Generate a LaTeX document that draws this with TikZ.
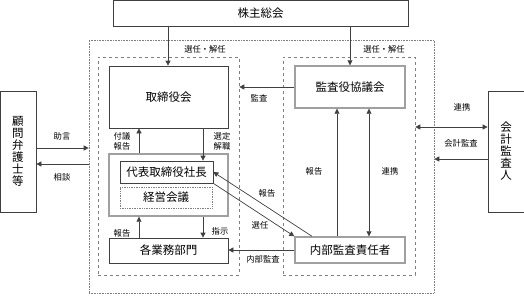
\documentclass[tikz,border=0pt]{standalone}
\usepackage{fontspec}
\setmainfont{Noto Sans CJK JP}
\usetikzlibrary{arrows.meta}
\definecolor{ln}{HTML}{404040}
\definecolor{gb}{HTML}{A0A0A0}
\tikzset{
  box/.style={draw=ln, line width=0.7pt, inner sep=0pt, font=\fontsize{11.5}{13}\selectfont, text=black},
  gbox/.style={draw=gb, line width=1.4pt, inner sep=0pt, font=\fontsize{11.5}{13}\selectfont, text=black},
  frame/.style={draw=gray, line width=0.6pt, inner sep=0pt},
  lab/.style={font=\fontsize{8.3}{9.5}\selectfont, text=black, inner sep=0pt, align=center},
  arr/.style={draw=ln, line width=0.7pt, -{Triangle[length=5pt,width=5pt]}},
  barr/.style={draw=ln, line width=0.7pt, {Triangle[length=5pt,width=5pt]}-{Triangle[length=5pt,width=5pt]}},
  ln/.style={draw=ln, line width=0.7pt}
}
\newcommand{\bx}[6]{% name, style, x1, y1, x2, y2
  \node[#2, minimum width={#5-#3}, minimum height={#6-#4}] (#1) at ({(#3+#5)/2},{(#4+#6)/2}) {};}
\begin{document}
\begin{tikzpicture}[x=1pt,y=-1pt]
\useasboundingbox (0,0) rectangle (524,295);
% frames
\node[frame, densely dotted, minimum width=345pt, minimum height=253pt] (outer) at (261.5,166.5) {};
\node[frame, dashed, minimum width=141pt, minimum height=218pt] (innerL) at (168.5,166) {};
\node[frame, dashed, minimum width=132pt, minimum height=218pt] (innerR) at (349,166) {};
% boxes
\node[box, minimum width=295pt, minimum height=25.5pt] (kabu) at (260.5,13.25) {株主総会};
\node[box, minimum width=119pt, minimum height=62pt] (tori) at (168.5,97) {取締役会};
\node[gbox, minimum width=110pt, minimum height=42pt] (kansa) at (350,87) {監査役協議会};
\node[gbox, minimum width=119pt, minimum height=62pt] (cont) at (168.5,185) {};
\node[box, minimum width=93pt, minimum height=22pt] (daihyo) at (166.5,172) {代表取締役社長};
\node[box, draw=gray, densely dotted, minimum width=92pt, minimum height=21pt] (keiei) at (166,197.5) {経営会議};
\node[box, minimum width=119pt, minimum height=25pt] (gyomu) at (168.5,250.5) {各業務部門};
\node[gbox, minimum width=110pt, minimum height=26pt] (naibu) at (350,250) {内部監査責任者};
\node[box, minimum width=36pt, minimum height=121pt, align=center, font=\fontsize{11.5}{12}\selectfont] (komon) at (18,151.5) {顧\\問\\弁\\護\\士\\等};
\node[box, minimum width=36pt, minimum height=121pt, align=center, font=\fontsize{11.5}{12}\selectfont] (kaikei) at (506,151.5) {会\\計\\監\\査\\人};
% connectors
\draw[arr] (kabu.south -| 168,0) -- (tori.north -| 168,0);
\draw[arr] (kabu.south -| 350,0) -- (kansa.north -| 350,0);
\draw[arr] (kansa.west) -- (innerL.east |- kansa.west);
\draw[arr] (cont.north -| 139,0) -- (tori.south -| 139,0);
\draw[arr] (tori.south -| 203,0) -- (daihyo.north -| 203,0);
\draw[arr] (gyomu.north -| 139,0) -- (cont.south -| 139,0);
\draw[arr] (cont.south -| 203,0) -- (gyomu.north -| 203,0);
\draw[arr] (naibu.west) -- (gyomu.east |- naibu.west);
\draw[arr] (naibu.north -| 312,0) -- (daihyo.east);
\draw[arr] (daihyo.south east) -- (naibu.north west);
\draw[arr] (naibu.north -| 337,0) -- (kansa.south -| 337,0);
\draw[barr] (kansa.south -| 369,0) -- (naibu.north -| 369,0);
\draw[arr] (komon.east |- 0,148) -- (outer.west |- 0,148);
\draw[arr] (outer.west |- 0,164) -- (komon.east |- 0,164);
\draw[barr] (innerR.east |- 0,127) -- (kaikei.west |- 0,127);
\draw[arr] (kaikei.west |- 0,159) -- (outer.east |- 0,159);
% labels
\node[lab] (l1) at (205,49) {選任・解任};
\node[lab] (l2) at (384,49) {選任・解任};
\node[lab] (l3) at (259,98) {監査};
\node[lab] (l4) at (62,136) {助言};
\node[lab] (l5) at (62,177) {相談};
\node[lab] (l6) at (122,141.5) {付議\\報告};
\node[lab] (l7) at (222,141.5) {選定\\解職};
\node[lab] (l8) at (122,233) {報告};
\node[lab] (l9) at (220,231) {指示};
\node[lab] (l10) at (263,259) {内部監査};
\node[lab] (l11) at (267,193) {報告};
\node[lab] (l12) at (260,225) {選任};
\node[lab] (l13) at (314,171) {報告};
\node[lab] (l14) at (390,171) {連携};
\node[lab] (l15) at (462,107) {連携};
\node[lab] (l16) at (461,143) {会計監査};
\end{tikzpicture}
\end{document}
